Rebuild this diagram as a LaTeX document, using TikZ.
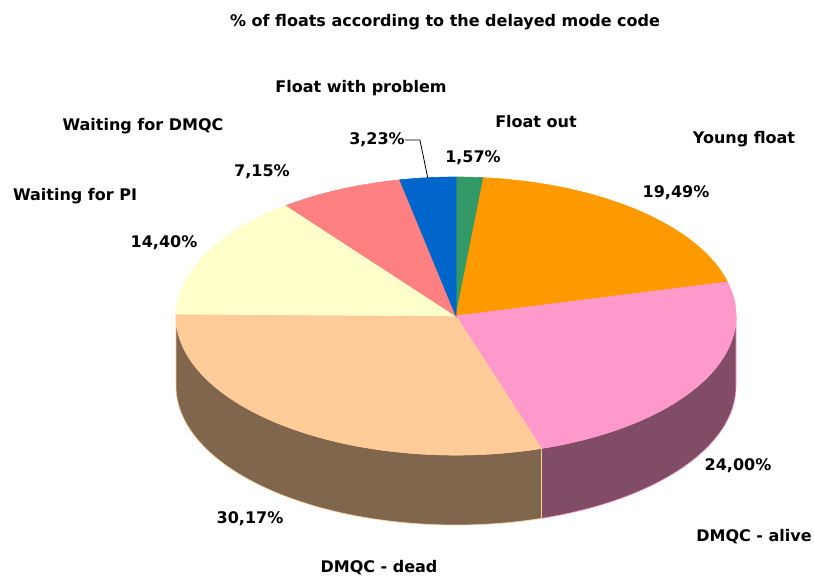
\documentclass[tikz,border=0pt]{standalone}
\usepackage{fontspec}
\setmainfont{DejaVu Sans}
\usetikzlibrary{calc}
\tikzset{>=latex}
\definecolor{floatout}{HTML}{339966}
\definecolor{young}{HTML}{FF9900}
\definecolor{alive}{HTML}{FF99CC}
\definecolor{dead}{HTML}{FFCC99}
\definecolor{waitpi}{HTML}{FFFFCC}
\definecolor{waitdmqc}{HTML}{FF8080}
\definecolor{problem}{HTML}{0066CC}
\tikzset{
  lbl/.style={font=\bfseries\fontsize{16}{18}\selectfont,inner sep=0pt},
  ttl/.style={font=\bfseries\fontsize{16}{18}\selectfont,inner sep=0pt},
  pierad/.style={x radius=280,y radius=139},
}

\begin{document}
\begin{tikzpicture}[x=1pt,y=1pt]
  \useasboundingbox (0,0) rectangle (814,-577);
  \coordinate (c) at (456,-316);
  % side of the pie
  \fill[alive!50!black,draw=alive,line width=0.6]
    (c) ++(-72.216:280 and 139)
    arc[start angle=-72.216,end angle=0,pierad]
    -- ++(0,-70)
    arc[start angle=0,end angle=-72.216,pierad] -- cycle;
  \fill[dead!50!black,draw=dead,line width=0.6]
    (c) ++(-180:280 and 139)
    arc[start angle=-180,end angle=-72.216,pierad]
    -- ++(0,-70)
    arc[start angle=-72.216,end angle=-180,pierad] -- cycle;
  % top face
  \foreach \a/\b/\col in {90/84.348/floatout,84.348/14.184/young,
      14.184/-72.216/alive,-72.216/-180.828/dead,-180.828/-232.668/waitpi,
      -232.668/-258.408/waitdmqc,-258.408/-270/problem}
    \filldraw[\col,line width=0.6] (c) -- ++(\a:280 and 139)
      arc[start angle=\a,end angle=\b,pierad] -- cycle;

  \node[ttl] (title) at (445,-22) {\% of floats according to the delayed mode code};

  \node[lbl] (nproblem)  at (361,-88)  {Float with problem};
  \node[lbl] (nwaitdmqc) at (143,-126) {Waiting for DMQC};
  \node[lbl] (nfloatout) at (536,-122) {Float out};
  \node[lbl] (nyoung)    at (744,-139) {Young float};
  \node[lbl] (nwaitpi)   at (75,-196)  {Waiting for PI};
  \node[lbl] (nalive)    at (754,-537) {DMQC - alive};
  \node[lbl] (ndead)     at (379,-568) {DMQC - dead};

  \node[lbl] (pproblem)  at (377,-140) {3,23\%};
  \node[lbl] (pfloatout) at (473,-158) {1,57\%};
  \node[lbl] (pwaitdmqc) at (262,-172) {7,15\%};
  \node[lbl] (pyoung)    at (676,-193) {19,49\%};
  \node[lbl] (pwaitpi)   at (164,-243) {14,40\%};
  \node[lbl] (palive)    at (738,-466) {24,00\%};
  \node[lbl] (pdead)     at (250,-519) {30,17\%};

  \coordinate (tip) at ($(c)+(95.8:280 and 139)$);
  \draw[line width=0.8] (pproblem.east) -- ++(15,0) -- (tip);
\end{tikzpicture}
\end{document}
